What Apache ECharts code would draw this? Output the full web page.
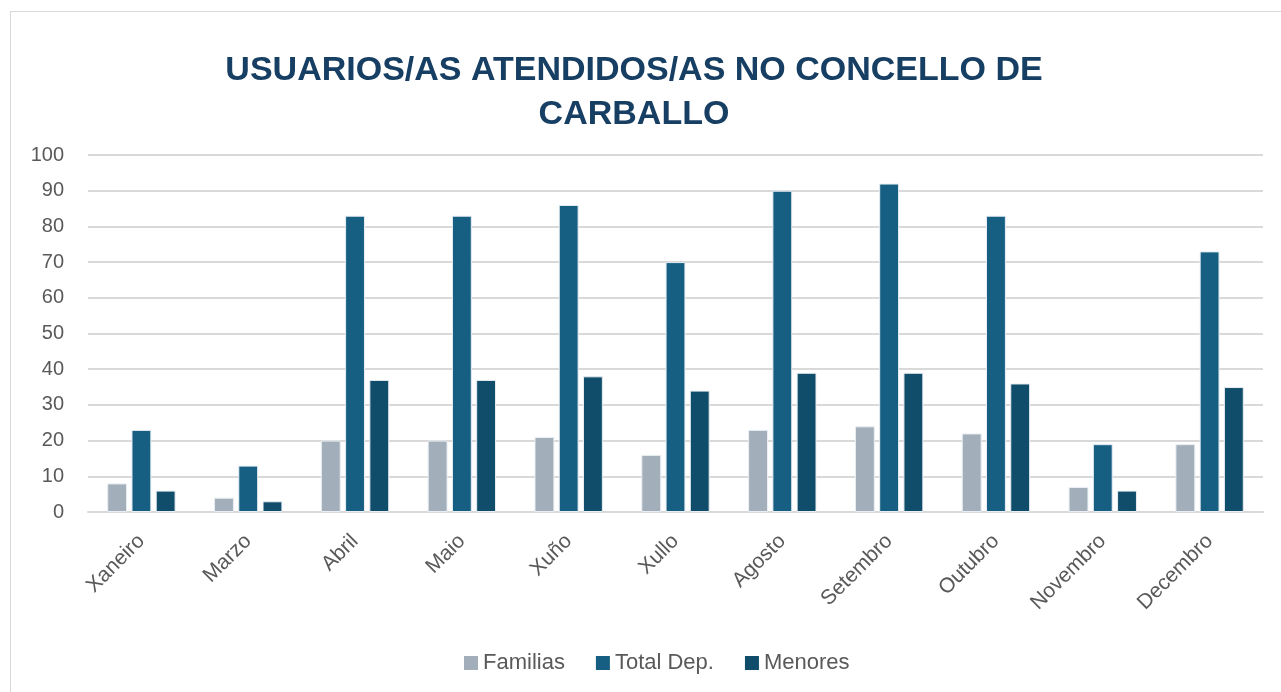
<!DOCTYPE html>
<html><head><meta charset="utf-8">
<script src="https://cdn.jsdelivr.net/npm/echarts@6/dist/echarts.min.js"></script>
<style>html,body{margin:0;padding:0;background:#fff}#c{width:1281px;height:692px}
#frame{position:absolute;left:10px;top:11px;width:1280px;height:690px;border:1px solid #d9d9d9;box-sizing:border-box;pointer-events:none}</style>
</head><body><div id="c"></div><div id="frame"></div>
<script>
const categories = ['Xaneiro','Marzo','Abril','Maio','Xuño','Xullo','Agosto','Setembro','Outubro','Novembro','Decembro'];
const familias = [8,4,20,20,21,16,23,24,22,7,19];
const totalDep = [23,13,83,83,86,70,90,92,83,19,73];
const menores = [6,3,37,37,38,34,39,39,36,6,35];
const yTicks = [0,10,20,30,40,50,60,70,80,90,100];

const chart = echarts.init(document.getElementById('c'));
const border = {borderColor:'#e8eef3', borderWidth:1};
chart.setOption({
  animation:false,
  textStyle:{fontFamily:'Liberation Sans, Arial, sans-serif'},
  title:{text:'USUARIOS/AS ATENDIDOS/AS NO CONCELLO DE\nCARBALLO', left:629, textAlign:'center', top:44,
    textStyle:{fontSize:34, fontWeight:'bold', color:'#173F63', lineHeight:44, fontFamily:'Liberation Sans, Arial, sans-serif'}},
  legend:{bottom:13, left:459, itemWidth:14, itemHeight:14, itemGap:31, icon:'rect',
    itemStyle:{borderWidth:0},
    textStyle:{fontSize:22, color:'#595959'}},
  grid:{left:88, right:18, top:155, bottom:180, containLabel:false},
  xAxis:{type:'category', data:categories,
    axisLine:{lineStyle:{color:'#d9d9d9', width:2}}, axisTick:{show:false},
    axisLabel:{rotate:45, fontSize:21, color:'#595959', margin:26}},
  yAxis:{type:'value', min:yTicks[0], max:yTicks[yTicks.length-1], interval:10,
    axisLine:{show:false}, axisTick:{show:false},
    axisLabel:{fontSize:20, color:'#595959', margin:24},
    splitLine:{lineStyle:{color:'#d9d9d9', width:2}}},
  series:[
    {name:'Familias', type:'bar', data:familias, barGap:'22%', barCategoryGap:'36%', itemStyle:Object.assign({color:'#A2AFBA'},border)},
    {name:'Total Dep.', type:'bar', data:totalDep, itemStyle:Object.assign({color:'#165F83'},border)},
    {name:'Menores', type:'bar', data:menores, itemStyle:Object.assign({color:'#0F4D6A'},border)}
  ]
});
</script></body></html>
